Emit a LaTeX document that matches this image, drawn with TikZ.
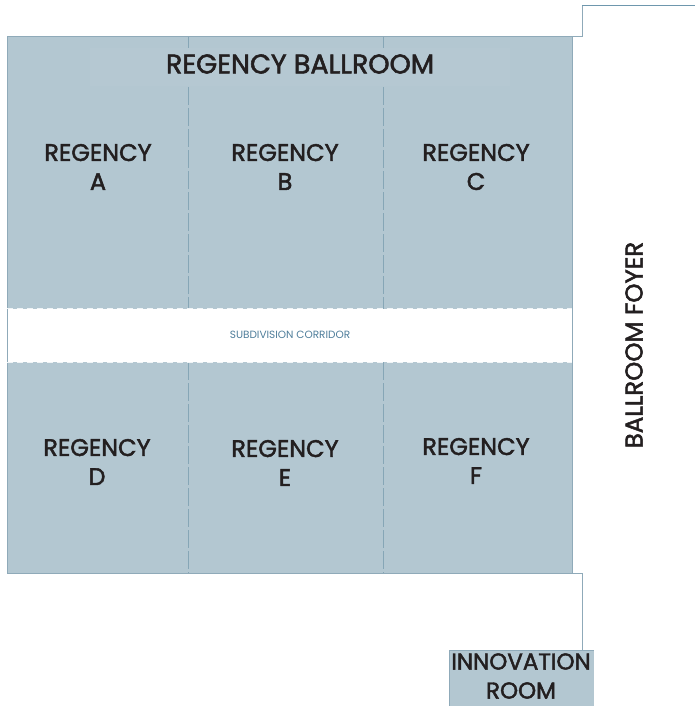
\documentclass[tikz,border=0pt]{standalone}
\usepackage{fontspec}
\setmainfont{Poppins}
\newfontfamily\labelfont{Poppins}[FakeBold=2]
\definecolor{roomfill}{HTML}{B3C7D1}
\definecolor{wall}{HTML}{8FAAB9}
\definecolor{dashc}{HTML}{86A6B6}
\definecolor{ink}{HTML}{231F20}
\definecolor{corr}{HTML}{4F7E9B}
\definecolor{topline}{HTML}{6E97AD}
\tikzset{
  wallline/.style={draw=wall, line width=1pt},
  partition/.style={draw=dashc, line width=1pt, dash pattern=on 18pt off 3pt},
  corredge/.style={draw=white!80!roomfill, line width=1pt, dash pattern=on 6pt off 4pt},
  roomlabel/.style={text=ink, align=center, font=\labelfont\fontsize{24}{29}\selectfont, inner sep=0pt},
  biglabel/.style={text=ink, align=center, font=\labelfont\fontsize{27}{30}\selectfont, inner sep=0pt},
  smalllabel/.style={text=corr, font=\fontsize{10.5}{12}\selectfont, inner sep=0pt},
}
\begin{document}
\begin{tikzpicture}[x=1pt,y=-1pt]
\useasboundingbox (0,0) rectangle (695,706);
% ballroom fill and corridor
\fill[roomfill] (7,37) rectangle (572,573);
\fill[white] (7,309) rectangle (572,362);
\fill[white, opacity=0.03] (90,48) rectangle (510,86);
% innovation room
\fill[roomfill] (449,650) rectangle (594,706);
\draw[wallline] (449,706) -- (449,650) -- (594,650);
% walls
\draw[wallline] (7,573) -- (7,37) -- (582,37) -- (582,6);
\draw[topline, line width=1pt] (582,6) -- (695,6);
\draw[wallline] (572,37) -- (572,573);
\draw[wallline] (7,573) -- (582,573) -- (582,650);
% partitions
\foreach \x in {188,383}{
  \draw[partition] (\x,37) -- (\x,48);
  \draw[partition] (\x,87) -- (\x,309);
  \draw[partition] (\x,362) -- (\x,573);
}
\draw[corredge] (7,308.5) -- (572,308.5);
\draw[corredge] (7,362.5) -- (572,362.5);
% labels
\node[biglabel] (title) at (300,64) {REGENCY BALLROOM};
\node[roomlabel] (ra) at (98,167) {REGENCY\\A};
\node[roomlabel] (rb) at (285,167) {REGENCY\\B};
\node[roomlabel] (rc) at (476,167) {REGENCY\\C};
\node[roomlabel] (rd) at (97,462) {REGENCY\\D};
\node[roomlabel] (re) at (285,463) {REGENCY\\E};
\node[roomlabel] (rf) at (476,461) {REGENCY\\F};
\node[smalllabel] (corridor) at (290,335) {SUBDIVISION CORRIDOR};
\node[roomlabel, font=\labelfont\fontsize{24.4}{29}\selectfont, rotate=90] (foyer) at (634,345) {BALLROOM FOYER};
\node[roomlabel, font=\labelfont\fontsize{23}{29}\selectfont] (innov) at (521,676) {INNOVATION\\ROOM};
\end{tikzpicture}
\end{document}
